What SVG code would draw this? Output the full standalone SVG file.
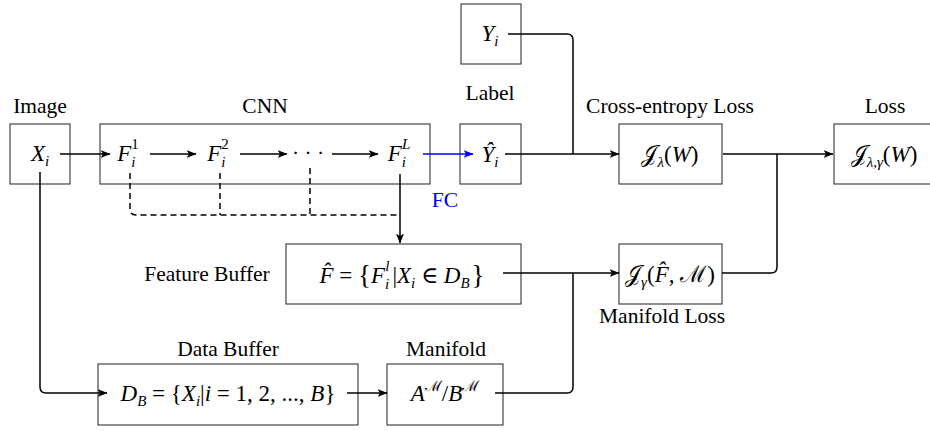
<svg xmlns="http://www.w3.org/2000/svg" width="930" height="431" viewBox="0 0 930 431">
<defs>
<marker id="ah" viewBox="0 0 10 8" markerWidth="10" markerHeight="8" refX="9.5" refY="4" orient="auto" markerUnits="userSpaceOnUse"><path d="M0,0 L10,4 L0,8 L2.5,4 Z" fill="#000"/></marker>
<marker id="ahb" viewBox="0 0 10 8" markerWidth="10" markerHeight="8" refX="9.5" refY="4" orient="auto" markerUnits="userSpaceOnUse"><path d="M0,0 L10,4 L0,8 L2.5,4 Z" fill="#0000ff"/></marker>
</defs>
<style>
.box{fill:#fff;stroke:#333;stroke-width:1.1}
.c{fill:none;stroke:#000;stroke-width:1.5}
.a{marker-end:url(#ah)}
.d{fill:none;stroke:#000;stroke-width:1.5;stroke-dasharray:6 4}
.t{font-family:"Liberation Serif","DejaVu Serif",serif;font-size:21.5px;fill:#000}
.m{font-family:"Liberation Serif","DejaVu Serif",serif;font-size:23px;font-style:italic;fill:#000}
.u{font-style:normal}
.s{font-size:15px}
.cal{font-family:"DejaVu Serif","Liberation Serif",serif;font-style:normal}
</style>

<g id="image">
<rect class="box" x="10" y="124" width="60" height="60"/>
<text class="t" x="40" y="113" text-anchor="middle">Image</text>
<text class="m" x="40" y="161" text-anchor="middle">X<tspan class="s" dy="5">i</tspan></text>
</g>

<g id="cnn">
<rect class="box" x="100" y="124" width="330" height="60"/>
<text class="t" x="265" y="113" text-anchor="middle">CNN</text>
<text class="m" x="128" y="161" text-anchor="middle">F<tspan class="s" dy="6">i</tspan><tspan class="s u" dx="-4" dy="-18">1</tspan></text>
<text class="m" x="218" y="161" text-anchor="middle">F<tspan class="s" dy="6">i</tspan><tspan class="s u" dx="-4" dy="-18">2</tspan></text>
<text class="t" x="308" y="160" text-anchor="middle">·  ·  ·</text>
<text class="m" x="399" y="161" text-anchor="middle">F<tspan class="s" dy="6">i</tspan><tspan class="s" dx="-4" dy="-18">L</tspan></text>
</g>

<g id="label">
<rect class="box" x="460" y="124" width="61" height="60"/>
<text class="t" x="490" y="100" text-anchor="middle">Label</text>
<text class="m" x="490" y="162" text-anchor="middle">Ŷ<tspan class="s" dy="5">i</tspan></text>
</g>

<g id="yi">
<rect class="box" x="461" y="4" width="60" height="60"/>
<text class="m" x="490" y="41" text-anchor="middle">Y<tspan class="s" dy="5">i</tspan></text>
</g>

<g id="ce-loss">
<rect class="box" x="619" y="124" width="103" height="60"/>
<text class="t" x="670" y="113" text-anchor="middle">Cross-entropy Loss</text>
<text class="m" x="670" y="162" text-anchor="middle"><tspan class="cal">𝒥</tspan><tspan class="s" dy="5">λ</tspan><tspan class="u" dy="-5">(</tspan>W<tspan class="u">)</tspan></text>
</g>

<g id="loss">
<rect class="box" x="834" y="124" width="100" height="60"/>
<text class="t" x="885" y="113" text-anchor="middle">Loss</text>
<text class="m" x="884" y="162" text-anchor="middle"><tspan class="cal">𝒥</tspan><tspan class="s" dy="5">λ,γ</tspan><tspan class="u" dy="-5">(</tspan>W<tspan class="u">)</tspan></text>
</g>

<g id="feature-buffer">
<rect class="box" x="286" y="244" width="235" height="60"/>
<text class="t" x="207" y="281" text-anchor="middle">Feature Buffer</text>
<text class="m" x="402" y="283" text-anchor="middle">F̂ <tspan class="u">= </tspan><tspan class="u" font-size="27" dy="1">{</tspan><tspan dy="-1">F</tspan><tspan class="s" dy="6">i</tspan><tspan class="s" dx="-4" dy="-18">l</tspan><tspan class="u" dx="3" dy="12">|</tspan>X<tspan class="s" dy="5">i</tspan><tspan class="u" dy="-5"> ∈ </tspan>D<tspan class="s" dy="5">B</tspan><tspan class="u" font-size="27" dx="2" dy="-4">}</tspan></text>
</g>

<g id="manifold-loss">
<rect class="box" x="619" y="244" width="103" height="60"/>
<text class="t" x="662" y="323" text-anchor="middle">Manifold Loss</text>
<text class="m" x="670" y="282" text-anchor="middle"><tspan class="cal">𝒥</tspan><tspan class="s" dy="5">γ</tspan><tspan class="u" dy="-5">(</tspan>F̂<tspan class="u">, </tspan><tspan class="cal">ℳ</tspan><tspan class="u">)</tspan></text>
</g>

<g id="data-buffer">
<rect class="box" x="98" y="364" width="260" height="61"/>
<text class="t" x="228" y="356" text-anchor="middle">Data Buffer</text>
<text class="m" x="228" y="401" text-anchor="middle">D<tspan class="s" dy="5">B</tspan><tspan class="u" dy="-5"> = {</tspan>X<tspan class="s" dy="5">i</tspan><tspan class="u" dy="-5">|</tspan>i<tspan class="u"> = 1, 2, ..., </tspan>B<tspan class="u">}</tspan></text>
</g>

<g id="manifold">
<rect class="box" x="387" y="364" width="116" height="61"/>
<text class="t" x="446" y="356" text-anchor="middle">Manifold</text>
<text class="m" x="445" y="401" text-anchor="middle">A<tspan class="s cal" dy="-10">ℳ</tspan><tspan class="u" dy="10">/</tspan>B<tspan class="s cal" dy="-10">ℳ</tspan></text>
</g>

<g id="connectors">
<line class="c a" x1="60" y1="154" x2="110" y2="154"/>
<line class="c a" x1="150" y1="154" x2="196" y2="154"/>
<line class="c a" x1="240" y1="154" x2="287" y2="154"/>
<line class="c a" x1="332" y1="154" x2="378" y2="154"/>
<line x1="423" y1="154" x2="473" y2="154" stroke="#0000ff" stroke-width="1.5" marker-end="url(#ahb)"/>
<line class="c a" x1="505" y1="154" x2="619" y2="154"/>
<path class="c" d="M508,34 H567 Q573,34 573,40 V154"/>
<line class="c a" x1="723" y1="154" x2="833" y2="154"/>
<path class="c" d="M722,273 H771 Q777,273 777,267 V154"/>
<line class="c a" x1="503" y1="273" x2="619" y2="273"/>
<path class="c" d="M495,393 H567 Q573,393 573,387 V273"/>
<path class="c a" d="M40,172 V387 Q40,393 46,393 H107"/>
<line class="c a" x1="347" y1="393" x2="387" y2="393"/>
<line class="c a" x1="400" y1="174" x2="400" y2="243"/>
<path class="d" d="M130,173 V209 Q130,215 136,215 H400"/>
<line class="d" x1="220" y1="173" x2="220" y2="215"/>
<line class="d" x1="310" y1="168" x2="310" y2="215"/>
<text class="t" x="445" y="207" text-anchor="middle" style="fill:#0000ff">FC</text>
</g>
</svg>
